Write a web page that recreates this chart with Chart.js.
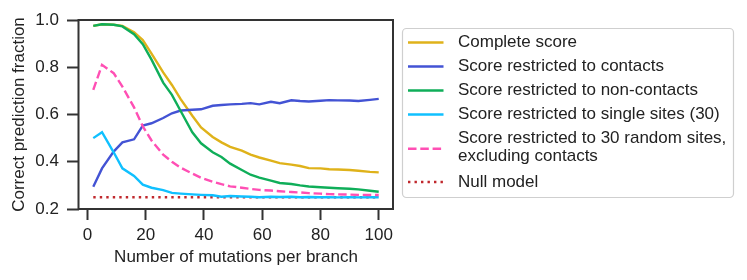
<!DOCTYPE html>
<html>
<head>
<meta charset="utf-8">
<script src="https://cdn.jsdelivr.net/npm/chart.js@4.4.1/dist/chart.umd.min.js"></script>
<style>
  html, body { margin: 0; padding: 0; background: #fff; }
  #wrap { width: 747px; height: 280px; position: relative; }
</style>
</head>
<body>
<div id="wrap"><canvas id="c" width="747" height="280"></canvas></div>
<script>
// ── DATA ──
const mutations = [2, 5, 9, 12, 16, 19, 22, 26, 29, 32, 36, 39, 43, 46, 49, 53, 56, 59, 63, 66, 70, 73, 76, 80, 83, 86, 90, 93, 97, 100];

const completeScore = [0.975, 0.982, 0.980, 0.975, 0.948, 0.915, 0.858, 0.778, 0.725, 0.665, 0.595, 0.545, 0.505, 0.482, 0.463, 0.447, 0.430, 0.418, 0.405, 0.394, 0.388, 0.382, 0.373, 0.372, 0.368, 0.367, 0.365, 0.362, 0.357, 0.355];
const contacts      = [0.294, 0.372, 0.443, 0.482, 0.495, 0.553, 0.563, 0.585, 0.605, 0.617, 0.620, 0.622, 0.637, 0.640, 0.643, 0.645, 0.648, 0.643, 0.654, 0.648, 0.660, 0.657, 0.655, 0.658, 0.661, 0.660, 0.659, 0.657, 0.662, 0.666];
const nonContacts   = [0.975, 0.982, 0.980, 0.973, 0.940, 0.898, 0.832, 0.735, 0.683, 0.615, 0.525, 0.478, 0.440, 0.420, 0.392, 0.365, 0.345, 0.333, 0.320, 0.310, 0.306, 0.300, 0.295, 0.292, 0.290, 0.288, 0.286, 0.283, 0.277, 0.273];
const singleSites   = [0.500, 0.525, 0.440, 0.372, 0.340, 0.303, 0.290, 0.280, 0.268, 0.265, 0.262, 0.260, 0.258, 0.252, 0.255, 0.253, 0.252, 0.250, 0.252, 0.251, 0.252, 0.250, 0.251, 0.250, 0.250, 0.249, 0.250, 0.249, 0.250, 0.250];
const randomSites   = [0.704, 0.810, 0.775, 0.718, 0.630, 0.550, 0.490, 0.430, 0.400, 0.375, 0.350, 0.332, 0.315, 0.305, 0.296, 0.290, 0.285, 0.281, 0.278, 0.275, 0.272, 0.270, 0.267, 0.265, 0.263, 0.262, 0.261, 0.260, 0.259, 0.259];
const nullX = [2, 100];
const nullY = [0.25, 0.25];

const xTicks = [0, 20, 40, 60, 80, 100];
const yTicks = [0.2, 0.4, 0.6, 0.8, 1.0];

const labels = [
  ['Complete score'],
  ['Score restricted to contacts'],
  ['Score restricted to non-contacts'],
  ['Score restricted to single sites (30)'],
  ['Score restricted to 30 random sites,', 'excluding contacts'],
  ['Null model'],
];

// ── STYLE ──
const FONT = "'Liberation Sans', Arial, Helvetica, sans-serif";
const FS = 17;
const INK = '#333';
const COLORS = ['#dfb21a', '#4353d4', '#0fae59', '#10c0ff', '#ff4fb4', '#c0282d'];
const LW = 2.4;

const pts = (xs, ys) => xs.map((x, i) => ({ x, y: ys[i] }));

const series = [completeScore, contacts, nonContacts, singleSites, randomSites];
const datasets = series.map((s, i) => ({
  label: labels[i].join(' '),
  data: pts(mutations, s),
  borderColor: COLORS[i],
  borderWidth: LW,
  pointRadius: 0,
  tension: 0,
  borderCapStyle: 'butt',
  borderDash: i === 4 ? [8.5, 3.8] : [],
}));
datasets.push({
  label: labels[5][0],
  data: pts(nullX, nullY),
  borderColor: COLORS[5],
  borderWidth: LW,
  pointRadius: 0,
  borderCapStyle: 'butt',
  borderDash: [2.4, 4.1],
});
// draw order like the original: null first, then the rest
datasets.forEach((d, i) => d.order = i === 5 ? 10 : 5 - i);

// frame around the plot area
const framePlugin = {
  id: 'frame',
  afterDatasetsDraw(chart) {
    const { ctx, chartArea: a } = chart;
    ctx.save();
    ctx.strokeStyle = INK; ctx.lineWidth = 2;
    ctx.strokeRect(a.left - 0.5, a.top, a.right - a.left + 0.5, a.bottom - a.top);
    ctx.restore();
  }
};

// legend box with two-line entry
const rowY = [42.5, 66.5, 90.5, 114.5, 138.8, 182];
const legendPlugin = {
  id: 'boxLegend',
  afterDraw(chart) {
    const { ctx } = chart;
    const bx = 402, by = 28, bw = 331, bh = 169;
    ctx.save();
    ctx.beginPath();
    ctx.roundRect(bx + 0.5, by + 0.5, bw, bh, 4);
    ctx.fillStyle = '#fff'; ctx.fill();
    ctx.strokeStyle = '#cfcfcf'; ctx.lineWidth = 1.2; ctx.stroke();
    ctx.font = `${FS}px ${FONT}`;
    ctx.textBaseline = 'middle';
    ctx.fillStyle = '#222';
    chart.data.datasets.forEach((d, i) => {
      const lines = labels[i];
      const y = rowY[i];
      const mid = lines.length > 1 ? y + 10 : y;
      ctx.beginPath();
      ctx.setLineDash(d.borderDash || []);
      ctx.lineCap = 'butt';
      ctx.strokeStyle = d.borderColor; ctx.lineWidth = d.borderWidth;
      ctx.moveTo(408, mid); ctx.lineTo(443.5, mid); ctx.stroke();
      ctx.setLineDash([]);
      lines.forEach((t, k) => ctx.fillText(t, 458, y + k * 17.4));
    });
    ctx.restore();
  }
};

new Chart(document.getElementById('c'), {
  type: 'line',
  data: { datasets },
  options: {
    responsive: false,
    animation: false,
    layout: { padding: { left: 0, top: 20, right: 747 - 393, bottom: 0 } },
    plugins: { legend: { display: false }, tooltip: { enabled: false } },
    scales: {
      x: {
        type: 'linear', min: -2.9, max: 104.9,
        afterBuildTicks: s => { s.ticks = xTicks.map(v => ({ value: v })); },
        afterFit: s => { s.height = 71; },
        grid: { drawOnChartArea: false, tickLength: 11, tickWidth: 2, tickColor: INK },
        border: { display: false },
        ticks: { color: '#222', font: { family: FONT, size: FS }, padding: 5, maxRotation: 0 },
        title: { display: true, text: 'Number of mutations per branch', color: '#222',
                 font: { family: FONT, size: FS }, padding: { top: 0, bottom: 12 } },
      },
      y: {
        min: 0.2, max: 1.0,
        afterBuildTicks: s => { s.ticks = yTicks.map(v => ({ value: v })); },
        afterFit: s => { s.width = 79; },
        grid: { drawOnChartArea: false, tickLength: 12, tickWidth: 2, tickColor: INK },
        border: { display: false },
        ticks: { color: '#222', font: { family: FONT, size: FS }, padding: 8,
                 callback: v => v.toFixed(1) },
        title: { display: true, text: 'Correct prediction fraction', color: '#222',
                 font: { family: FONT, size: FS }, padding: 9 },
      },
    },
  },
  plugins: [framePlugin, legendPlugin],
});
</script>
</body>
</html>
